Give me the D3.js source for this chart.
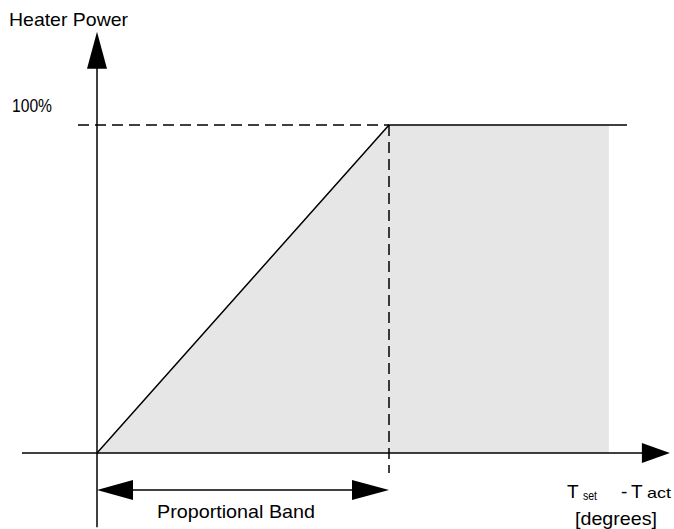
<!DOCTYPE html>
<html lang="en">
<head>
    <meta charset="UTF-8">
    <title>proportional band</title>
    <script src="https://d3js.org/d3.v7.min.js"></script>
    <style>
        body { margin: 0; background: #fff; }
        text { font-family: "Liberation Sans", Arial, Helvetica, sans-serif; fill: #000; }
    </style>
</head>
<body>

<svg width="674" height="529"></svg>

<script>

    // data: x in units of the proportional band, y in % heater power
    var rampX = [0, 1, 1.815];        // output line
    var rampY = [0, 100, 100];
    var fillX = [0, 1, 1.753];        // shaded area
    var fillY = [0, 100, 100];
    var bandStart = 0, bandEnd = 1;   // proportional band
    var xAxisRange = [-0.257, 1.962];
    var yAxisRange = [-22.6, 128.4];
    var yTickLabel = '100%';

    var svg = d3.select('svg');

    var x = d3.scaleLinear().domain([0, 1]).range([97, 389]);
    var y = d3.scaleLinear().domain([0, 100]).range([453, 125]);

    // shaded area under the curve
    var area = d3.area()
        .x(function (d) { return x(d[0]); })
        .y0(y(0))
        .y1(function (d) { return y(d[1]); });

    svg.append('path')
        .datum(d3.zip(fillX, fillY))
        .attr('d', area)
        .attr('fill', '#e6e6e6');

    // dashed guides at 100%
    svg.append('line')
        .attr('x1', 78).attr('x2', x(1))
        .attr('y1', y(100)).attr('y2', y(100))
        .attr('stroke', '#000').attr('stroke-width', 1.5)
        .attr('stroke-dasharray', '11,6');

    svg.append('line')
        .attr('x1', x(1)).attr('x2', x(1))
        .attr('y1', y(100)).attr('y2', 473)
        .attr('stroke', '#000').attr('stroke-width', 1.5)
        .attr('stroke-dasharray', '11,6');

    // the controller output line
    var line = d3.line()
        .x(function (d) { return x(d[0]); })
        .y(function (d) { return y(d[1]); });

    svg.append('path')
        .datum(d3.zip(rampX, rampY))
        .attr('d', line)
        .attr('fill', 'none')
        .attr('stroke', '#000')
        .attr('stroke-width', 1.5);

    // axes
    var x0 = x(xAxisRange[0]), x1 = x(xAxisRange[1]);
    var yTop = y(yAxisRange[1]), yBot = y(yAxisRange[0]);

    svg.append('line')
        .attr('x1', x0).attr('x2', x1 - 20)
        .attr('y1', y(0)).attr('y2', y(0))
        .attr('stroke', '#000').attr('stroke-width', 1.5);
    svg.append('path')
        .attr('d', 'M' + x1 + ',' + y(0) + 'L' + (x1 - 28) + ',' + (y(0) - 10) + 'L' + (x1 - 28) + ',' + (y(0) + 10) + 'Z')
        .attr('fill', '#000');

    svg.append('line')
        .attr('x1', x(0)).attr('x2', x(0))
        .attr('y1', yTop + 20).attr('y2', yBot)
        .attr('stroke', '#000').attr('stroke-width', 1.5);
    svg.append('path')
        .attr('d', 'M' + x(0) + ',' + yTop + 'L' + (x(0) - 10) + ',' + (yTop + 37) + 'L' + (x(0) + 10) + ',' + (yTop + 37) + 'Z')
        .attr('fill', '#000');

    // proportional band double arrow
    var by = 490;
    var bx0 = x(bandStart), bx1 = x(bandEnd);
    svg.append('line')
        .attr('x1', bx0 + 20).attr('x2', bx1 - 20)
        .attr('y1', by).attr('y2', by)
        .attr('stroke', '#000').attr('stroke-width', 1.5);
    svg.append('path')
        .attr('d', 'M' + bx0 + ',' + by + 'L' + (bx0 + 36) + ',' + (by - 10) + 'L' + (bx0 + 36) + ',' + (by + 10) + 'Z')
        .attr('fill', '#000');
    svg.append('path')
        .attr('d', 'M' + bx1 + ',' + by + 'L' + (bx1 - 37) + ',' + (by - 10) + 'L' + (bx1 - 37) + ',' + (by + 10) + 'Z')
        .attr('fill', '#000');

    // labels
    svg.append('text')
        .attr('x', 9).attr('y', 26)
        .attr('font-size', 19)
        .attr('textLength', 119).attr('lengthAdjust', 'spacingAndGlyphs')
        .text('Heater Power');

    svg.append('text')
        .attr('x', 12).attr('y', 112)
        .attr('font-size', 19)
        .attr('textLength', 40).attr('lengthAdjust', 'spacingAndGlyphs')
        .text(yTickLabel);

    svg.append('text')
        .attr('x', 157).attr('y', 518)
        .attr('font-size', 19)
        .attr('textLength', 158).attr('lengthAdjust', 'spacingAndGlyphs')
        .text('Proportional Band');

    // T_set - T_act
    svg.append('text').attr('x', 567).attr('y', 498).attr('font-size', 19).text('T');
    svg.append('text').attr('x', 583).attr('y', 500).attr('font-size', 13)
        .attr('textLength', 14).attr('lengthAdjust', 'spacingAndGlyphs').text('set');
    svg.append('text').attr('x', 621).attr('y', 498).attr('font-size', 19).text('-');
    svg.append('text').attr('x', 631).attr('y', 498).attr('font-size', 19).text('T');
    svg.append('text').attr('x', 647).attr('y', 498).attr('font-size', 15)
        .attr('textLength', 24).attr('lengthAdjust', 'spacingAndGlyphs').text('act');

    svg.append('text')
        .attr('x', 575).attr('y', 525)
        .attr('font-size', 19)
        .attr('textLength', 82).attr('lengthAdjust', 'spacingAndGlyphs')
        .text('[degrees]');

</script>
</body>
</html>
